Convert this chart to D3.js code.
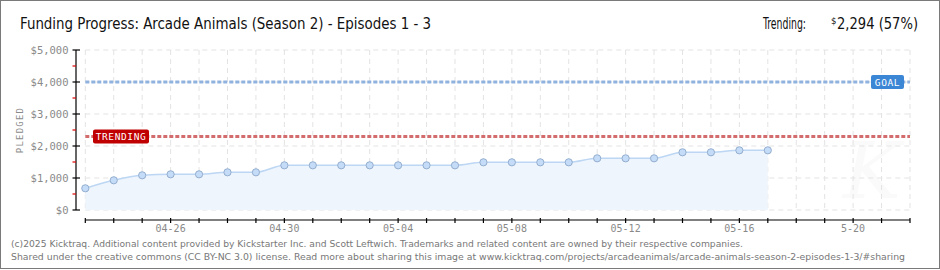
<!DOCTYPE html>
<html>
<head>
<meta charset="utf-8">
<script src="https://cdn.jsdelivr.net/npm/d3@7"></script>
<style>
  body { margin: 0; background: #fff; }
  svg { display: block; }
</style>
</head>
<body>
<div id="chart"></div>
<script>
// data
const startDay = "2025-04-23";
const endDay = "2025-05-22";
const pledged = [678, 928, 1084, 1115, 1115, 1178, 1178, 1396, 1396, 1396, 1396, 1396, 1396, 1396,
    1490, 1490, 1490, 1490, 1615, 1615, 1615, 1803, 1803, 1865, 1865];
const goal = 4000;
const trending = 2294;
const yTicks = [0, 1000, 2000, 3000, 4000, 5000];
const xTickDays = ["2025-04-26", "2025-04-30", "2025-05-04", "2025-05-08", "2025-05-12", "2025-05-16", "2025-05-20"];
const xTickLabels = ["04-26", "04-30", "05-04", "05-08", "05-12", "05-16", "5-20"];

const W = 940, H = 270;
const parse = d3.timeParse("%Y-%m-%d");
const t0 = parse(startDay), t1 = parse(endDay);
const days = d3.timeDay.range(t0, d3.timeDay.offset(t1, 1));
const data = pledged.map((v, i) => ({ date: days[i], value: v }));

const svg = d3.select("#chart").append("svg")
    .attr("width", W).attr("height", H);

// frame
svg.append("rect")
    .attr("x", 0.5).attr("y", 0.5)
    .attr("width", W - 1).attr("height", H - 2)
    .attr("fill", "#fff").attr("stroke", "#7a7a7a");

const x = d3.scaleTime().domain([t0, t1]).range([85.3, 910]);
const y = d3.scaleLinear().domain([0, 5000]).range([210, 50]);

// watermark
svg.append("text")
    .attr("x", 872).attr("y", 198)
    .attr("text-anchor", "middle")
    .attr("font-family", "DejaVu Serif")
    .attr("font-style", "italic")
    .attr("font-size", 78)
    .attr("fill", "#fafafa")
    .text("K");

// grid
const grid = svg.append("g").attr("stroke", "#e3e3e3").attr("stroke-dasharray", "5,4");
grid.selectAll("line.h").data(yTicks).join("line")
    .attr("x1", x(t0)).attr("x2", x(t1))
    .attr("y1", d => y(d)).attr("y2", d => y(d));
grid.selectAll("line.v").data(days).join("line")
    .attr("x1", d => x(d)).attr("x2", d => x(d))
    .attr("y1", y(5000)).attr("y2", y(0));

// area + line
svg.append("path").datum(data)
    .attr("fill", "#eef5fd")
    .attr("d", d3.area().curve(d3.curveMonotoneX)
        .x(d => x(d.date)).y0(y(0)).y1(d => y(d.value)));
svg.append("path").datum(data)
    .attr("fill", "none").attr("stroke", "#bcd6f3").attr("stroke-width", 1.5)
    .attr("d", d3.line().curve(d3.curveMonotoneX)
        .x(d => x(d.date)).y(d => y(d.value)));

// goal and trending lines
svg.append("line")
    .attr("x1", x(t0)).attr("x2", x(t1))
    .attr("y1", y(goal)).attr("y2", y(goal))
    .attr("stroke", "#8fb2df").attr("stroke-width", 3).attr("stroke-dasharray", "4,2");
svg.append("line")
    .attr("x1", x(t0)).attr("x2", x(t1))
    .attr("y1", y(trending)).attr("y2", y(trending))
    .attr("stroke", "#d36c6c").attr("stroke-width", 3).attr("stroke-dasharray", "4,2");

// points
svg.selectAll("circle.pt").data(data).join("circle")
    .attr("cx", d => x(d.date)).attr("cy", d => y(d.value))
    .attr("r", 3.6)
    .attr("fill", "#c4dcf7").attr("stroke", "#94aecf").attr("stroke-width", 1);

// labels on lines
function tag(xl, yc, w, fill, label) {
    svg.append("rect")
        .attr("x", xl).attr("y", yc - 7).attr("width", w).attr("height", 14)
        .attr("rx", 2).attr("fill", fill);
    svg.append("text")
        .attr("x", xl + w / 2).attr("y", yc + 3.5)
        .attr("text-anchor", "middle")
        .attr("font-family", "DejaVu Sans Mono")
        .attr("font-size", 9.5)
        .attr("letter-spacing", 0.6)
        .attr("fill", "#fff")
        .text(label);
}
tag(871, y(goal), 33, "#3b86d5", "GOAL");
tag(93, y(trending), 56, "#c00000", "TRENDING");

// y axis
const yAxis = svg.append("g");
yAxis.append("line").attr("x1", 76).attr("x2", 76).attr("y1", y(5000)).attr("y2", y(0))
    .attr("stroke", "#000").attr("stroke-width", 1.2);
yAxis.selectAll("line.minor").data(yTicks.slice(0, -1)).join("line")
    .attr("x1", 72.5).attr("x2", 76)
    .attr("y1", d => y(d + 500)).attr("y2", d => y(d + 500))
    .attr("stroke", "#e00000").attr("stroke-width", 1.2);
yAxis.selectAll("line.major").data(yTicks).join("line")
    .attr("x1", 72.5).attr("x2", 80)
    .attr("y1", d => y(d)).attr("y2", d => y(d))
    .attr("stroke", "#000").attr("stroke-width", 1.2);
yAxis.selectAll("text").data(yTicks).join("text")
    .attr("x", 68.5).attr("y", d => y(d) + 3.8)
    .attr("text-anchor", "end")
    .attr("font-family", "DejaVu Sans Mono")
    .attr("font-size", 10.5)
    .attr("fill", "#8a8a8a")
    .text(d => "$" + d3.format(",")(d));

svg.append("text")
    .attr("transform", "translate(23,130) rotate(-90)")
    .attr("text-anchor", "middle")
    .attr("font-family", "DejaVu Sans Mono")
    .attr("font-size", 9)
    .attr("letter-spacing", 1.2)
    .attr("fill", "#8a8a8a")
    .text("PLEDGED");

// x axis
const xAxis = svg.append("g");
xAxis.append("line").attr("x1", x(t0)).attr("x2", x(t1)).attr("y1", 220).attr("y2", 220)
    .attr("stroke", "#000").attr("stroke-width", 1.2);
xAxis.selectAll("line.tick").data(days).join("line")
    .attr("x1", d => x(d)).attr("x2", d => x(d))
    .attr("y1", 218).attr("y2", 223)
    .attr("stroke", "#000").attr("stroke-width", 1.2);
xAxis.selectAll("text").data(xTickDays).join("text")
    .attr("x", d => x(parse(d))).attr("y", 231.5)
    .attr("text-anchor", "middle")
    .attr("font-family", "DejaVu Sans Mono")
    .attr("font-size", 10)
    .attr("fill", "#8a8a8a")
    .text((d, i) => xTickLabels[i]);

// titles
const headFont = "DejaVu Sans Condensed, sans-serif";
svg.append("text")
    .attr("x", 20).attr("y", 29)
    .attr("font-family", headFont)
    .attr("font-size", 16)
    .attr("textLength", 411).attr("lengthAdjust", "spacingAndGlyphs")
    .attr("fill", "#111")
    .text("Funding Progress: Arcade Animals (Season 2) - Episodes 1 - 3");

const head = svg.append("g")
    .attr("font-family", headFont)
    .attr("fill", "#111");
head.append("text")
    .attr("x", 763).attr("y", 29)
    .attr("font-size", 15.5)
    .attr("textLength", 43).attr("lengthAdjust", "spacingAndGlyphs")
    .text("Trending:");
head.append("text")
    .attr("x", 831).attr("y", 24)
    .attr("font-size", 9.5)
    .text("$");
head.append("text")
    .attr("x", 837).attr("y", 29)
    .attr("font-size", 15.5)
    .attr("textLength", 81).attr("lengthAdjust", "spacingAndGlyphs")
    .text(d3.format(",")(trending) + " (" + Math.round(trending / goal * 100) + "%)");

// footer
const foot = svg.append("g")
    .attr("font-family", "DejaVu Sans")
    .attr("font-size", 9.3)
    .attr("fill", "#777");
foot.append("text").attr("x", 11).attr("y", 247)
    .attr("textLength", 732).attr("lengthAdjust", "spacingAndGlyphs")
    .text("(c)2025 Kicktraq. Additional content provided by Kickstarter Inc. and Scott Leftwich. Trademarks and related content are owned by their respective companies.");
foot.append("text").attr("x", 11).attr("y", 259.5)
    .attr("textLength", 894).attr("lengthAdjust", "spacingAndGlyphs")
    .text("Shared under the creative commons (CC BY-NC 3.0) license. Read more about sharing this image at www.kicktraq.com/projects/arcadeanimals/arcade-animals-season-2-episodes-1-3/#sharing");
</script>
</body>
</html>
